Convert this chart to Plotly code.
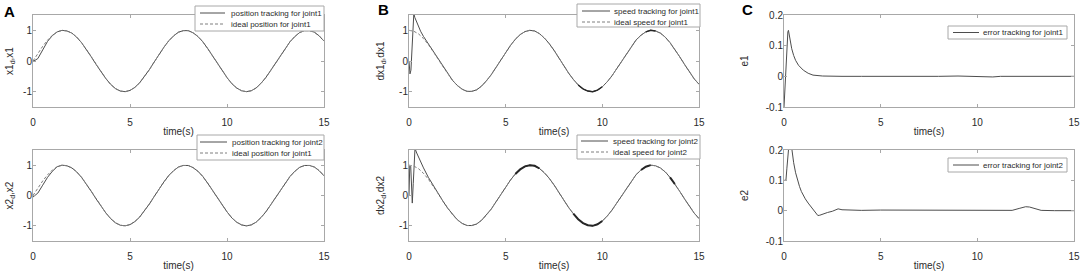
import plotly.graph_objects as go

W, H = 1084, 274

# ---------------- data ----------------
T = [0, 0.25, 0.5, 0.75, 1, 1.25, 1.5, 1.75, 2, 2.25, 2.5, 2.75, 3, 3.25, 3.5, 3.75,
     4, 4.25, 4.5, 4.75, 5, 5.25, 5.5, 5.75, 6, 6.25, 6.5, 6.75, 7, 7.25, 7.5, 7.75,
     8, 8.25, 8.5, 8.75, 9, 9.25, 9.5, 9.75, 10, 10.25, 10.5, 10.75, 11, 11.25, 11.5,
     11.75, 12, 12.25, 12.5, 12.75, 13, 13.25, 13.5, 13.75, 14, 14.25, 14.5, 14.75, 15]

pos_ideal = [0, 0.25, 0.48, 0.68, 0.84, 0.95, 1.0, 0.98, 0.91, 0.78, 0.6, 0.38, 0.14, -0.11,
             -0.35, -0.57, -0.76, -0.9, -0.98, -1.0, -0.96, -0.86, -0.71, -0.51, -0.28, -0.03,
             0.22, 0.45, 0.66, 0.82, 0.94, 0.99, 0.99, 0.92, 0.8, 0.63, 0.41, 0.17, -0.08,
             -0.32, -0.54, -0.74, -0.88, -0.97, -1.0, -0.97, -0.88, -0.73, -0.54, -0.31,
             -0.07, 0.18, 0.42, 0.63, 0.8, 0.93, 0.99, 0.99, 0.94, 0.82, 0.65]

speed_ideal = [1.0, 0.97, 0.88, 0.73, 0.54, 0.32, 0.07, -0.18, -0.42, -0.63, -0.8, -0.92,
               -0.99, -0.99, -0.94, -0.82, -0.65, -0.45, -0.21, 0.04, 0.28, 0.51, 0.71, 0.86,
               0.96, 1.0, 0.98, 0.89, 0.75, 0.57, 0.35, 0.1, -0.15, -0.39, -0.6, -0.78, -0.91,
               -0.98, -1.0, -0.95, -0.84, -0.68, -0.48, -0.25, 0.0, 0.25, 0.48, 0.69, 0.84,
               0.95, 1.0, 0.98, 0.91, 0.78, 0.6, 0.38, 0.14, -0.11, -0.36, -0.58, -0.76]

# transient parts of the tracking curves (after them the curves follow the ideal ones)
pos1_t0 = [0, 0.1, 0.25, 0.5, 0.75, 1.0]
pos1_v0 = [0.0, 0.02, 0.08, 0.36, 0.64, 0.83]
pos2_t0 = [0, 0.1, 0.25, 0.5, 0.75, 1.0]
pos2_v0 = [-0.05, 0.0, 0.08, 0.34, 0.6, 0.8]
spd1_t0 = [0, 0.05, 0.1, 0.15, 0.2, 0.25, 0.3, 0.4, 0.5, 0.6, 0.75, 1.0]
spd1_v0 = [0.0, -0.42, -0.3, 0.5, 1.3, 1.55, 1.42, 1.26, 1.1, 0.97, 0.8, 0.56]
spd2_t0 = [0, 0.04, 0.09, 0.13, 0.17, 0.22, 0.27, 0.31, 0.4, 0.5, 0.6, 0.75, 1.0, 1.25]
spd2_v0 = [0.0, 1.0, 0.95, 0.3, -0.25, 0.4, 1.2, 1.55, 1.4, 1.25, 1.1, 0.91, 0.6, 0.33]

e1_t = [0, 0.1, 0.2, 0.23, 0.3, 0.4, 0.5, 0.6, 0.75, 0.9, 1.0, 1.25, 1.5, 2.0, 2.5, 3, 4, 5,
        6, 7, 7.3, 7.6, 8, 9, 9.5, 10, 10.5, 10.8, 11.2, 12, 13, 13.5, 14, 15]
e1_v = [-0.1, 0.04, 0.145, 0.15, 0.12, 0.09, 0.068, 0.052, 0.036, 0.025, 0.02, 0.01, 0.004,
        0.001, 0.0, 0.0, 0.0, 0.0, 0.0, 0.0, -0.002, -0.001, 0.0, 0.001, 0.0, 0.0, -0.002,
        -0.002, 0.0, 0.0, 0.0, -0.002, 0.0, 0.0]

e2_t = [0, 0.1, 0.15, 0.2, 0.25, 0.3, 0.35, 0.4, 0.5, 0.6, 0.7, 0.8, 0.9, 1.0, 1.1, 1.25,
        1.4, 1.5, 1.62, 1.75, 1.85, 2.0, 2.25, 2.5, 2.7, 2.8, 3.0, 3.5, 4, 5, 6, 7, 8, 9, 10,
        11, 11.8, 12.2, 12.5, 12.7, 13.0, 13.3, 14, 15]
e2_v = [0.1, 0.1, 0.14, 0.21, 0.25, 0.25, 0.23, 0.2, 0.158, 0.125, 0.1, 0.08, 0.063, 0.05,
        0.039, 0.025, 0.013, 0.006, -0.004, -0.016, -0.015, -0.011, -0.006, -0.002, 0.005,
        0.006, 0.003, 0.002, 0.001, 0.002, 0.002, 0.001, 0.001, 0.002, 0.001, 0.001, 0.001,
        0.008, 0.013, 0.012, 0.006, 0.001, 0.0, 0.0]

# ranges where the speed tracking chatters (drawn as a thicker line)
chatter1 = [(8.6, 10.0), (12.2, 12.9)]
chatter2 = [(5.4, 6.9), (8.5, 10.2), (11.9, 12.7), (13.3, 13.8)]

ylabels = ["x1<sub>d</sub>,x1", "dx1<sub>d</sub>,dx1", "e1",
           "x2<sub>d</sub>,x2", "dx2<sub>d</sub>,dx2", "e2"]
xlabel = "time(s)"
legend_labels = [
    ["position tracking for joint1", "ideal position for joint1"],
    ["speed tracking for joint1", "ideal speed for joint1"],
    ["error tracking for joint1"],
    ["position tracking for joint2", "ideal position for joint1"],
    ["speed tracking for joint2", "ideal speed for joint2"],
    ["error tracking for joint2"],
]
panel_letters = ["A", "B", "C"]
xticks = [0, 5, 10, 15]
yticks_state = [-1, 0, 1]
yticks_err = [-0.1, 0, 0.1, 0.2]

# ---------------- style ----------------
FONT = "Liberation Sans, Arial, sans-serif"
SOLID = "#4d4d4d"
DASHC = "#7f7f7f"
AXIS = "#a8a8a8"
TEXT = "#2b2b2b"
cols_px = [(33, 324), (409, 699), (784, 1074)]
rows_px = [(15, 107), (150, 241)]
ystand = [7, 12, 15]


def build(t0, v0, full):
    last = t0[-1]
    idx = [i for i, t in enumerate(T) if t > last + 1e-9]
    return list(t0) + [T[i] for i in idx], list(v0) + [full[i] for i in idx]


pos1_t, pos1_v = build(pos1_t0, pos1_v0, pos_ideal)
pos2_t, pos2_v = build(pos2_t0, pos2_v0, pos_ideal)
spd1_t, spd1_v = build(spd1_t0, spd1_v0, speed_ideal)
spd2_t, spd2_v = build(spd2_t0, spd2_v0, speed_ideal)


def masked(tt, vv, ranges):
    return [v if any(a <= t <= b for a, b in ranges) else None for t, v in zip(tt, vv)]


def ax_ref(k):
    return ("x" if k == 1 else f"x{k}"), ("y" if k == 1 else f"y{k}")


fig = go.Figure()
series = {
    1: [(pos1_t, pos1_v, "solid"), (T, pos_ideal, "dash")],
    2: [(spd1_t, spd1_v, "solid"), (T, speed_ideal, "dash")],
    3: [(e1_t, e1_v, "solid")],
    4: [(pos2_t, pos2_v, "solid"), (T, pos_ideal, "dash")],
    5: [(spd2_t, spd2_v, "solid"), (T, speed_ideal, "dash")],
    6: [(e2_t, e2_v, "solid")],
}
for k, lst in series.items():
    xr, yr = ax_ref(k)
    for tt, vv, st in lst:
        fig.add_trace(go.Scatter(
            x=tt, y=vv, mode="lines", xaxis=xr, yaxis=yr, showlegend=False,
            line=dict(color=SOLID if st == "solid" else DASHC, width=1,
                      dash="solid" if st == "solid" else "3px,2px")))
# chatter overlays
for k, tt, vv, rg, w in [(2, spd1_t, spd1_v, chatter1, 1.4), (5, spd2_t, spd2_v, chatter2, 2.0)]:
    xr, yr = ax_ref(k)
    fig.add_trace(go.Scatter(x=tt, y=masked(tt, vv, rg), mode="lines", xaxis=xr, yaxis=yr,
                             showlegend=False, connectgaps=False,
                             line=dict(color="#262626", width=w)))

layout = dict(width=W, height=H, margin=dict(l=0, r=0, t=0, b=0), template="none",
              paper_bgcolor="white", plot_bgcolor="white", showlegend=False,
              font=dict(family=FONT, size=10, color=TEXT))
for r in range(2):
    for c in range(3):
        k = r * 3 + c + 1
        xn = "xaxis" if k == 1 else f"xaxis{k}"
        yn = "yaxis" if k == 1 else f"yaxis{k}"
        xr, yr = ax_ref(k)
        x0, x1 = cols_px[c]
        y0, y1 = rows_px[r]
        err = (c == 2)
        common = dict(ticks="inside", ticklen=3, tickcolor=AXIS, showline=True, linecolor=AXIS,
                      linewidth=1, mirror="ticks", showgrid=False, zeroline=False,
                      ticklabeloverflow="allow",
                      tickfont=dict(size=10, color=TEXT, family=FONT))
        layout[xn] = dict(domain=[x0 / W, x1 / W], anchor=yr, range=[0, 15], tickvals=xticks,
                          ticklabelstandoff=6,
                          title=dict(text=xlabel, font=dict(size=10, color=TEXT, family=FONT),
                                     standoff=0), **common)
        layout[yn] = dict(domain=[1 - y1 / H, 1 - y0 / H], anchor=xr,
                          range=[-0.1, 0.2] if err else [-1.5, 1.5],
                          tickvals=yticks_err if err else yticks_state,
                          ticktext=["-0.1", "0", "0.1", "0.2"] if err else ["-1", "0", "1"],
                          ticklabelstandoff=-2,
                          title=dict(text=ylabels[k - 1],
                                     font=dict(size=10, color=TEXT, family=FONT),
                                     standoff=ystand[c]), **common)
fig.update_layout(**layout)

# ---------------- legends (drawn manually, MATLAB style) ----------------
legend_geom = {
    1: dict(box=(195, 6, 324, 31), rows=[13, 24], s=(200, 225), tx=229),
    2: dict(box=(577, 4, 700, 27), rows=[11, 22], s=(582, 610), tx=612),
    3: dict(box=(948, 26, 1067, 39), rows=[32.5], s=(953, 979), tx=981),
    4: dict(box=(197, 135, 324, 160), rows=[142, 153], s=(200, 227), tx=230),
    5: dict(box=(577, 135, 700, 159), rows=[141, 152], s=(581, 608), tx=611),
    6: dict(box=(948, 158, 1067, 172), rows=[165], s=(953, 979), tx=981),
}
shapes, annots = [], []
for k, g in legend_geom.items():
    bx0, by0, bx1, by1 = g["box"]
    shapes.append(dict(type="rect", xref="paper", yref="paper", x0=bx0 / W, x1=bx1 / W,
                       y0=1 - by1 / H, y1=1 - by0 / H, line=dict(color=AXIS, width=1),
                       fillcolor="white", layer="above"))
    for i, (label, ry) in enumerate(zip(legend_labels[k - 1], g["rows"])):
        solid = (i == 0)
        shapes.append(dict(type="line", xref="paper", yref="paper", x0=g["s"][0] / W,
                           x1=g["s"][1] / W, y0=1 - ry / H, y1=1 - ry / H, layer="above",
                           line=dict(color=SOLID if solid else DASHC, width=1,
                                     dash="solid" if solid else "3px,2px")))
        annots.append(dict(text=label, xref="paper", yref="paper", x=g["tx"] / W, y=1 - ry / H,
                           xanchor="left", yanchor="middle", showarrow=False,
                           font=dict(size=8, color=TEXT, family=FONT)))

for letter, (lx, ly) in zip(panel_letters, [(9, 11), (383, 10), (747, 10)]):
    annots.append(dict(text=f"<b>{letter}</b>", xref="paper", yref="paper", x=lx / W,
                       y=1 - ly / H, xanchor="center", yanchor="middle", showarrow=False,
                       font=dict(size=15, color="black", family=FONT)))

fig.update_layout(shapes=shapes, annotations=annots)
fig.write_html("out.html", config={"displayModeBar": False},
               post_script="document.body.style.margin='0';document.body.style.padding='0';")
